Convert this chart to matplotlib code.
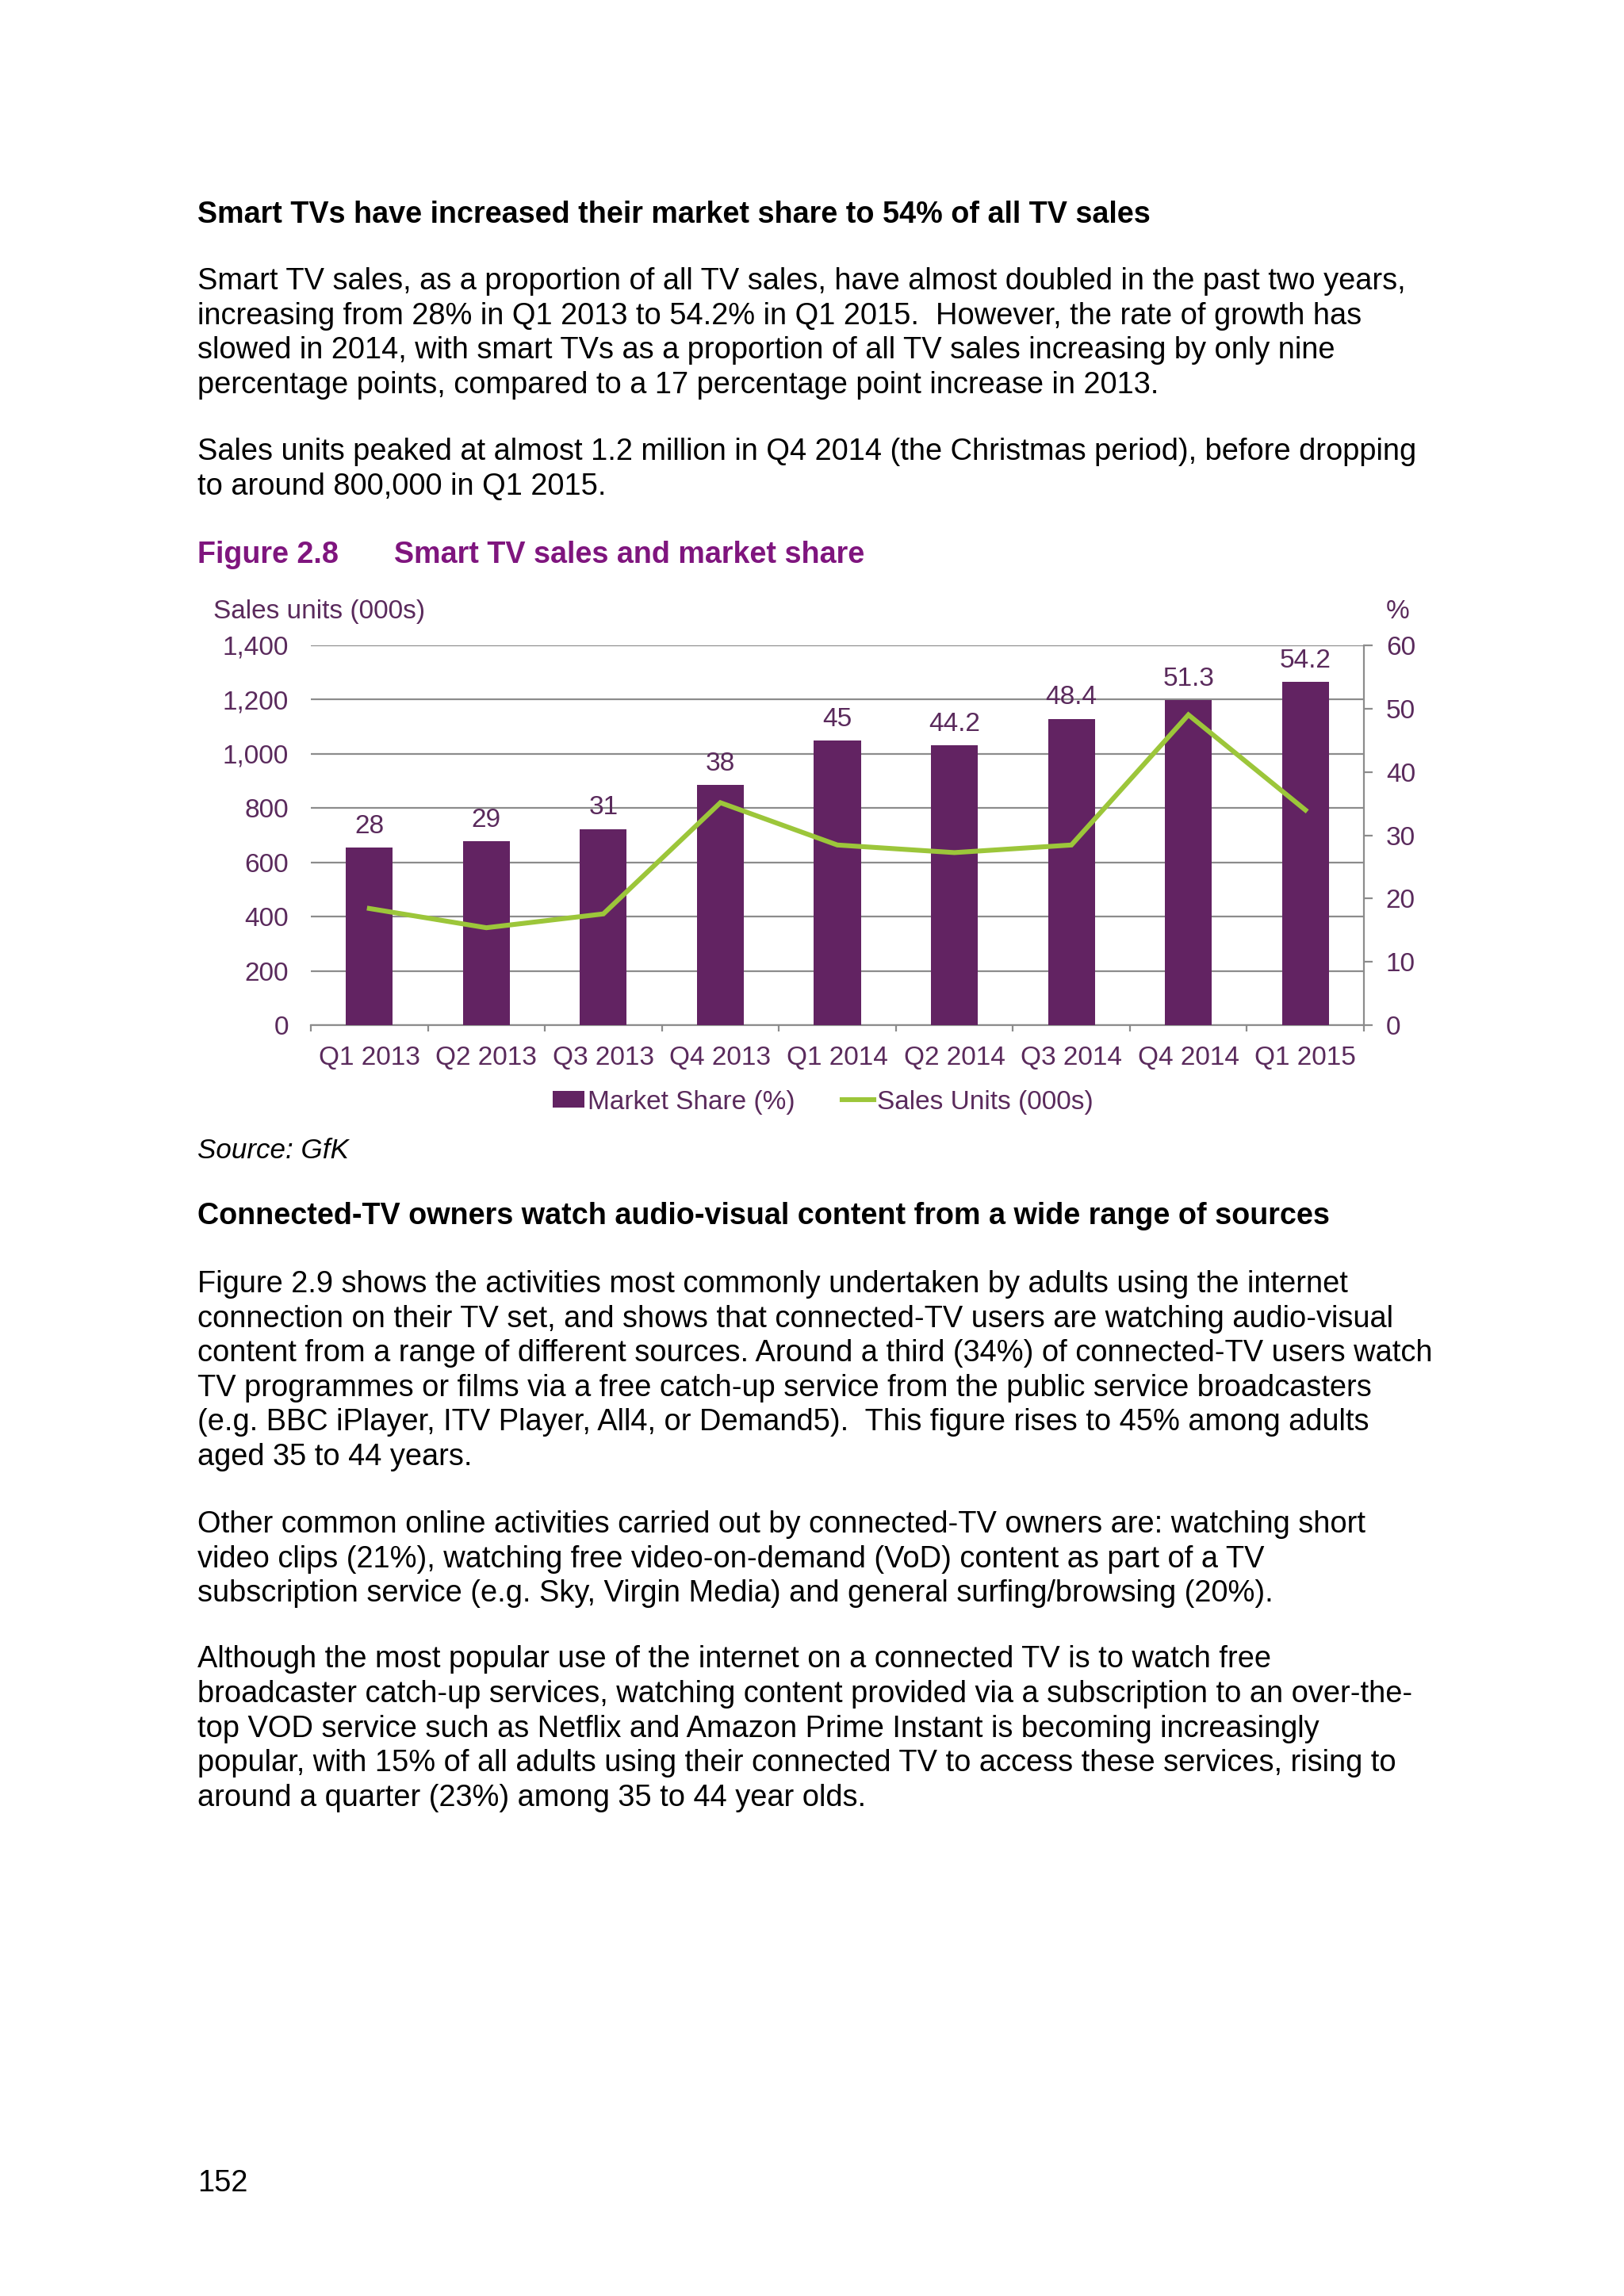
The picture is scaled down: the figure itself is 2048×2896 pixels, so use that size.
import numpy as np
import matplotlib
matplotlib.use("Agg")
import matplotlib.pyplot as plt
from matplotlib.lines import Line2D
from matplotlib.patches import Patch

plt.rcParams['font.family'] = ['Liberation Sans', 'DejaVu Sans']

quarters = ["Q1 2013", "Q2 2013", "Q3 2013", "Q4 2013", "Q1 2014",
            "Q2 2014", "Q3 2014", "Q4 2014", "Q1 2015"]
market_share = [28, 29, 31, 38, 45, 44.2, 48.4, 51.3, 54.2]
sales_units = [430, 359, 410, 820, 664, 636, 664, 1144, 793]
left_ticks = [0, 200, 400, 600, 800, 1000, 1200, 1400]
right_ticks = [0, 10, 20, 30, 40, 50, 60]

PURPLE = "#622362"
GREEN = "#9CC63A"
TXT = "#5A2A5C"
TITLE = "#7F157E"
GRID = "#8C8C8C"

W, H = 2048, 2896
DPI = 200
fig = plt.figure(figsize=(W / DPI, H / DPI), dpi=DPI)
fig.patch.set_facecolor("white")


def put(x, y, s, **kw):
    # x, y in page pixels, y = baseline
    fig.text(x / W, 1 - y / H, s, va="baseline", ha=kw.pop("ha", "left"), **kw)


BODY = 13.7
HEAD = 13.6

put(249, 281, "Smart TVs have increased their market share to 54% of all TV sales",
    fontsize=HEAD, fontweight="bold", color="black")

para1 = [
    "Smart TV sales, as a proportion of all TV sales, have almost doubled in the past two years,",
    "increasing from 28% in Q1 2013 to 54.2% in Q1 2015.  However, the rate of growth has",
    "slowed in 2014, with smart TVs as a proportion of all TV sales increasing by only nine",
    "percentage points, compared to a 17 percentage point increase in 2013.",
]
for i, line in enumerate(para1):
    put(249, 365 + i * 43.7, line, fontsize=BODY, color="black")

para2 = [
    "Sales units peaked at almost 1.2 million in Q4 2014 (the Christmas period), before dropping",
    "to around 800,000 in Q1 2015.",
]
for i, line in enumerate(para2):
    put(249, 580 + i * 43.7, line, fontsize=BODY, color="black")

put(249, 710, "Figure 2.8", fontsize=HEAD, fontweight="bold", color=TITLE)
put(497, 710, "Smart TV sales and market share", fontsize=HEAD, fontweight="bold", color=TITLE)

# chart
CH = 12.0
ax = fig.add_axes([392 / W, 1 - 1293 / H, 1328 / W, 479 / H])
x = np.arange(len(quarters))

ax.set_ylim(0, 1400)
ax.set_yticks(left_ticks)
ax.set_yticklabels([f"{v:,}" for v in left_ticks])
ax.grid(axis="y", color=GRID, linewidth=0.8)
ax.set_axisbelow(True)
ax.tick_params(axis="y", length=0, pad=10, labelsize=CH, labelcolor=TXT)
ax.set_xlim(-0.5, len(quarters) - 0.5)
ax.set_xticks(x)
ax.set_xticklabels(quarters)
ax.set_xticks(np.arange(-0.5, len(quarters)), minor=True)
ax.tick_params(axis="x", which="major", length=0, pad=9.5, labelsize=CH, labelcolor=TXT)
ax.tick_params(axis="x", which="minor", length=3, width=0.8, color=GRID)
for s in ["top", "left", "right"]:
    ax.spines[s].set_visible(False)
ax.spines["bottom"].set_color(GRID)
ax.spines["bottom"].set_linewidth(0.8)

ax2 = ax.twinx()
bars = ax2.bar(x, market_share, width=0.4, color=PURPLE, zorder=2)
ax2.set_ylim(0, 60)
ax2.set_yticks(right_ticks)
ax2.tick_params(axis="y", length=4, width=0.8, color=GRID, pad=6,
                labelsize=CH, labelcolor=TXT)
ax2.bar_label(bars, labels=[f"{v:g}" for v in market_share], padding=4,
              fontsize=CH, color=TXT)
for s in ["top", "left", "bottom"]:
    ax2.spines[s].set_visible(False)
ax2.spines["right"].set_color(GRID)
ax2.spines["right"].set_linewidth(0.8)
ax2.patch.set_visible(False)

ax3 = ax.twinx()
ax3.plot(x, sales_units, color=GREEN, linewidth=2.2, solid_joinstyle="miter")
ax3.set_ylim(0, 1400)
ax3.axis("off")

put(269, 780, "Sales units (000s)", fontsize=CH, color=TXT)
put(1748, 780, "%", fontsize=CH, color=TXT)

handles = [Patch(facecolor=PURPLE, edgecolor="none"),
           Line2D([0], [0], color=GREEN, linewidth=2.2)]
fig.legend(handles, ["Market Share (%)", "Sales Units (000s)"],
           loc="center", bbox_to_anchor=(1038 / W, 1 - 1390 / H), ncol=2,
           frameon=False, fontsize=CH, labelcolor=TXT, handlelength=1.2,
           handleheight=0.6, handletextpad=0.1, columnspacing=1.8)

put(249, 1461, "Source: GfK", fontsize=BODY * 0.92, fontstyle="italic", color="black")

put(249, 1544, "Connected-TV owners watch audio-visual content from a wide range of sources",
    fontsize=HEAD, fontweight="bold", color="black")

para3 = [
    "Figure 2.9 shows the activities most commonly undertaken by adults using the internet",
    "connection on their TV set, and shows that connected-TV users are watching audio-visual",
    "content from a range of different sources. Around a third (34%) of connected-TV users watch",
    "TV programmes or films via a free catch-up service from the public service broadcasters",
    "(e.g. BBC iPlayer, ITV Player, All4, or Demand5).  This figure rises to 45% among adults",
    "aged 35 to 44 years.",
]
for i, line in enumerate(para3):
    put(249, 1630 + i * 43.6, line, fontsize=BODY, color="black")

para4 = [
    "Other common online activities carried out by connected-TV owners are: watching short",
    "video clips (21%), watching free video-on-demand (VoD) content as part of a TV",
    "subscription service (e.g. Sky, Virgin Media) and general surfing/browsing (20%).",
]
for i, line in enumerate(para4):
    put(249, 1933 + i * 43.6, line, fontsize=BODY, color="black")

para5 = [
    "Although the most popular use of the internet on a connected TV is to watch free",
    "broadcaster catch-up services, watching content provided via a subscription to an over-the-",
    "top VOD service such as Netflix and Amazon Prime Instant is becoming increasingly",
    "popular, with 15% of all adults using their connected TV to access these services, rising to",
    "around a quarter (23%) among 35 to 44 year olds.",
]
for i, line in enumerate(para5):
    put(249, 2103 + i * 43.8, line, fontsize=BODY, color="black")

put(249, 2764, "152", fontsize=BODY, color="black")

fig.savefig("out.png", dpi=DPI, facecolor="white")
